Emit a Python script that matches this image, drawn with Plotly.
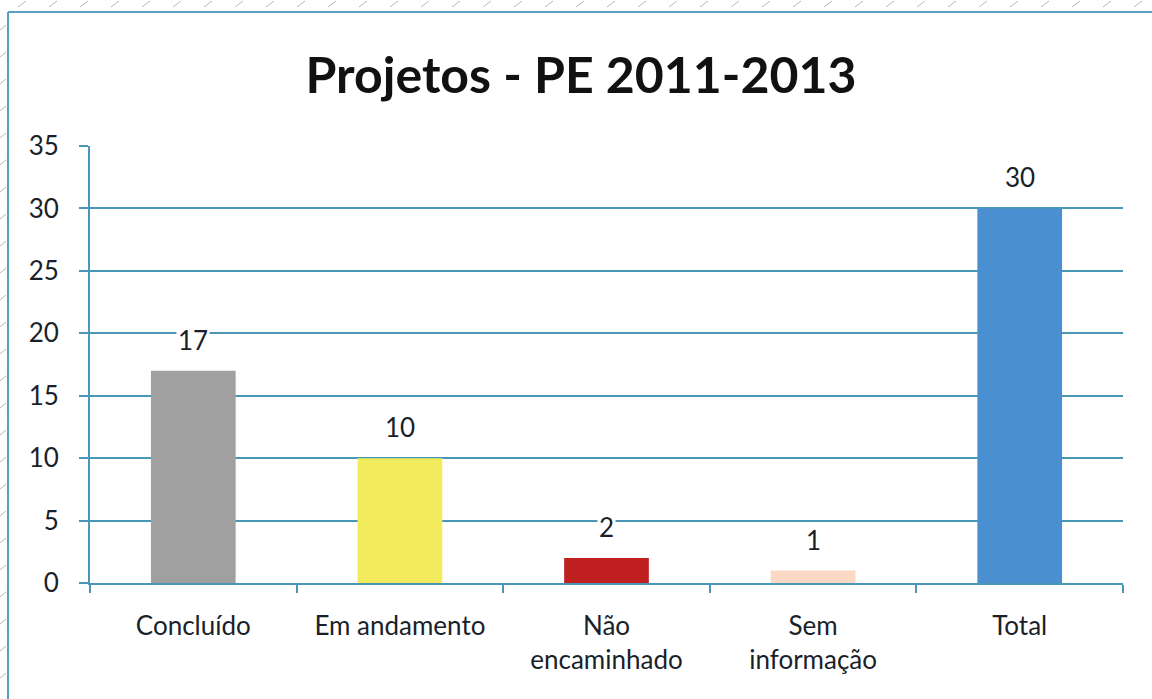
import plotly.graph_objects as go

categories = ["Concluído", "Em andamento", "Não<br>encaminhado", "Sem<br>informação", "Total"]
values = [17, 10, 2, 1, 30]
colors = ["#a0a0a0", "#f2ec5c", "#c0201f", "#fbd9c4", "#4a8fd0"]
title = "Projetos - PE 2011-2013"
font_family = "Lato, Open Sans, sans-serif"

W, H = 1152, 699
L, R, T, B = 90, 29, 146, 116
PW, PH = W - L - R, H - T - B


def px(x):
    return (x - L) / PW


def py(y):
    return (H - B - y) / PH


axis_col = "#4a96b6"

fig = go.Figure()
fig.add_trace(go.Bar(
    x=categories, y=values,
    marker=dict(color=colors, line=dict(width=0)),
    hoverinfo="x+y",
))

annotations = []
for c, v in zip(categories, values):
    annotations.append(dict(
        x=c, y=v, xref="x", yref="y", text=str(v), showarrow=False,
        yanchor="bottom", yshift=13, bgcolor="white", borderpad=1,
        font=dict(size=26, color="#1a1f2a", family=font_family),
    ))

shapes = [
    dict(type="line", xref="paper", yref="paper", x0=px(8), x1=px(8), y0=py(12), y1=py(720),
         line=dict(color="#5a9fc0", width=2)),
    dict(type="line", xref="paper", yref="paper", x0=px(8), x1=px(1170), y0=py(12), y1=py(12),
         line=dict(color="#5a9fc0", width=2)),
]
# decorative dashed background outside the frame
for xx in range(18, 1152, 31):
    shapes.append(dict(type="line", xref="paper", yref="paper", x0=px(xx), x1=px(xx + 8),
                       y0=py(7), y1=py(1), line=dict(color="#b8b8b8", width=1)))
for yy in range(25, 699, 27):
    shapes.append(dict(type="line", xref="paper", yref="paper", x0=px(0), x1=px(6),
                       y0=py(yy + 5), y1=py(yy), line=dict(color="#b8b8b8", width=1)))

fig.update_layout(
    width=W, height=H,
    paper_bgcolor="white", plot_bgcolor="white",
    margin=dict(l=L, r=R, t=T, b=B),
    bargap=0.59,
    showlegend=False,
    title=dict(text="<b>" + title + "</b>", x=px(581), xanchor="center", xref="paper",
               y=1 - 75 / H, yanchor="middle",
               font=dict(size=50, color="#111111", family=font_family)),
    font=dict(family=font_family, color="#1a1f2a"),
    xaxis=dict(showline=True, linecolor=axis_col, linewidth=2, ticks="outside",
               tickson="boundaries", ticklen=8, tickcolor=axis_col, tickwidth=2,
               tickfont=dict(size=26, color="#1a1f2a"), showgrid=False,
               ticklabelstandoff=19),
    yaxis=dict(range=[0, 35], dtick=5, showline=True, linecolor=axis_col, linewidth=2,
               ticks="outside", ticklen=9, tickcolor=axis_col, tickwidth=2,
               gridcolor=axis_col, gridwidth=2, zeroline=False,
               tickfont=dict(size=26, color="#1a1f2a"), ticklabelstandoff=15),
    annotations=annotations,
    shapes=shapes,
)

fig.write_html("out.html", config={"displayModeBar": False},
               post_script="document.body.style.margin='0';")
